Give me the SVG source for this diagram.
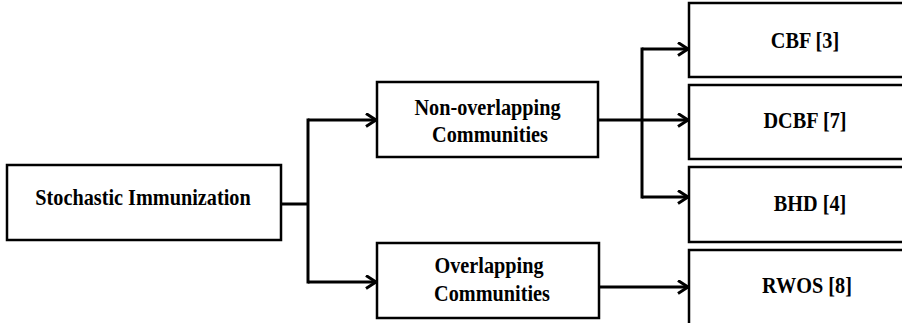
<svg xmlns="http://www.w3.org/2000/svg" width="902" height="323" viewBox="0 0 902 323">
<style>
.box{fill:#fff;stroke:#000;stroke-width:2.5}
.lbl{font-family:"Liberation Serif","Times New Roman",serif;font-weight:bold;font-size:23px;fill:#000;text-anchor:middle}
.con{fill:none;stroke:#000;stroke-width:3}
</style>
<defs>
<marker id="arr" markerUnits="userSpaceOnUse" markerWidth="14" markerHeight="16" refX="11" refY="7.5" orient="auto">
<path d="M1,1 L11,7.5 L1,14" fill="none" stroke="#000" stroke-width="3"/>
</marker>
</defs>
<rect width="902" height="323" fill="#fff"/>
<g id="connectors">
<path class="con" d="M281,204 H308"/>
<path class="con" d="M308,118.5 V283.5"/>
<path class="con" d="M308,120 H376" marker-end="url(#arr)"/>
<path class="con" d="M308,282 H376" marker-end="url(#arr)"/>
<path class="con" d="M598,120 H688" marker-end="url(#arr)"/>
<path class="con" d="M642,47.5 V198.5"/>
<path class="con" d="M642,49 H688" marker-end="url(#arr)"/>
<path class="con" d="M642,197 H688" marker-end="url(#arr)"/>
<path class="con" d="M599,287 H688" marker-end="url(#arr)"/>
</g>
<g id="stochastic">
<rect class="box" x="7" y="165" width="274" height="75"/>
<text class="lbl" transform="translate(143,205) scale(0.88,1)">Stochastic Immunization</text>
</g>
<g id="nonoverlapping">
<rect class="box" x="377" y="82" width="221" height="75"/>
<text class="lbl" transform="translate(487.5,114.5) scale(0.88,1)">Non-overlapping</text>
<text class="lbl" transform="translate(490,141.5) scale(0.88,1)">Communities</text>
</g>
<g id="overlapping">
<rect class="box" x="377" y="243" width="222" height="75"/>
<text class="lbl" transform="translate(489,273) scale(0.88,1)">Overlapping</text>
<text class="lbl" transform="translate(492,300.5) scale(0.88,1)">Communities</text>
</g>
<g id="cbf">
<rect class="box" x="689" y="3" width="222" height="74"/>
<text class="lbl" transform="translate(805,48) scale(0.88,1)">CBF [3]</text>
</g>
<g id="dcbf">
<rect class="box" x="689" y="85" width="222" height="74"/>
<text class="lbl" transform="translate(805,128) scale(0.88,1)">DCBF [7]</text>
</g>
<g id="bhd">
<rect class="box" x="689" y="167" width="222" height="75"/>
<text class="lbl" transform="translate(810,211) scale(0.88,1)">BHD [4]</text>
</g>
<g id="rwos">
<rect class="box" x="689" y="250" width="222" height="80"/>
<text class="lbl" transform="translate(807,292.5) scale(0.88,1)">RWOS [8]</text>
</g>
</svg>
